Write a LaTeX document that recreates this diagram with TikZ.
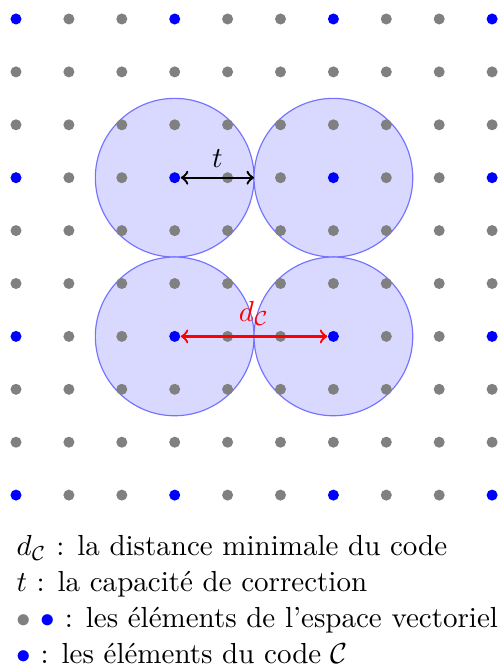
\documentclass[tikz,border=0pt]{standalone}
\usepackage{fontspec}
\begin{document}
\begin{tikzpicture}[x=0.3448pt,y=-0.3448pt,
  gdot/.style={circle,fill=gray,inner sep=0pt,minimum size=3.8pt},
  bdot/.style={circle,fill=blue,inner sep=0pt,minimum size=3.8pt},
  ball/.style={draw=blue!55,fill=blue!15,line width=0.4pt},
  tarrow/.style={<->,thick,black},
  darrow/.style={<->,thick,red}]
\useasboundingbox (0,0) rectangle (498,672);
% balls
\foreach \i/\j in {3/3,6/3,3/6,6/6}
  \path[ball] (16+52.9*\i,19+52.9*\j) circle[radius=27.36pt];
% grid points
\foreach \i in {0,...,9}{
  \foreach \j in {0,...,9}{
    \pgfmathtruncatemacro\cc{mod(\i,3)+mod(\j,3)}
    \ifnum\cc=0
      \node[bdot] (p\i\j) at (16+52.9*\i,19+52.9*\j) {};
    \else
      \node[gdot] (p\i\j) at (16+52.9*\i,19+52.9*\j) {};
    \fi
  }
}
% t arrow
\path (p33.center) ++(79.35,0) coordinate (tend);
\draw[tarrow] (p33) -- (tend) node[midway,above,inner sep=3pt] (tl) {$t$};
% d_C arrow
\draw[darrow] (p36) -- (p66) node[midway,above,inner sep=3.2pt,text=red] (dl) {$d_{\mathcal{C}}$};
% legend
\node[anchor=north west,align=left,inner sep=0pt] (legend) at (16,535) {%
$d_{\mathcal{C}}$ : la distance minimale du code\\[0.35pt]
$t$ : la capacité de correction\\[0.35pt]
\textcolor{gray}{$\bullet$} \textcolor{blue}{$\bullet$} : les éléments de l'espace vectoriel\\[0.35pt]
\textcolor{blue}{$\bullet$} : les éléments du code $\mathcal{C}$};
\end{tikzpicture}
\end{document}
